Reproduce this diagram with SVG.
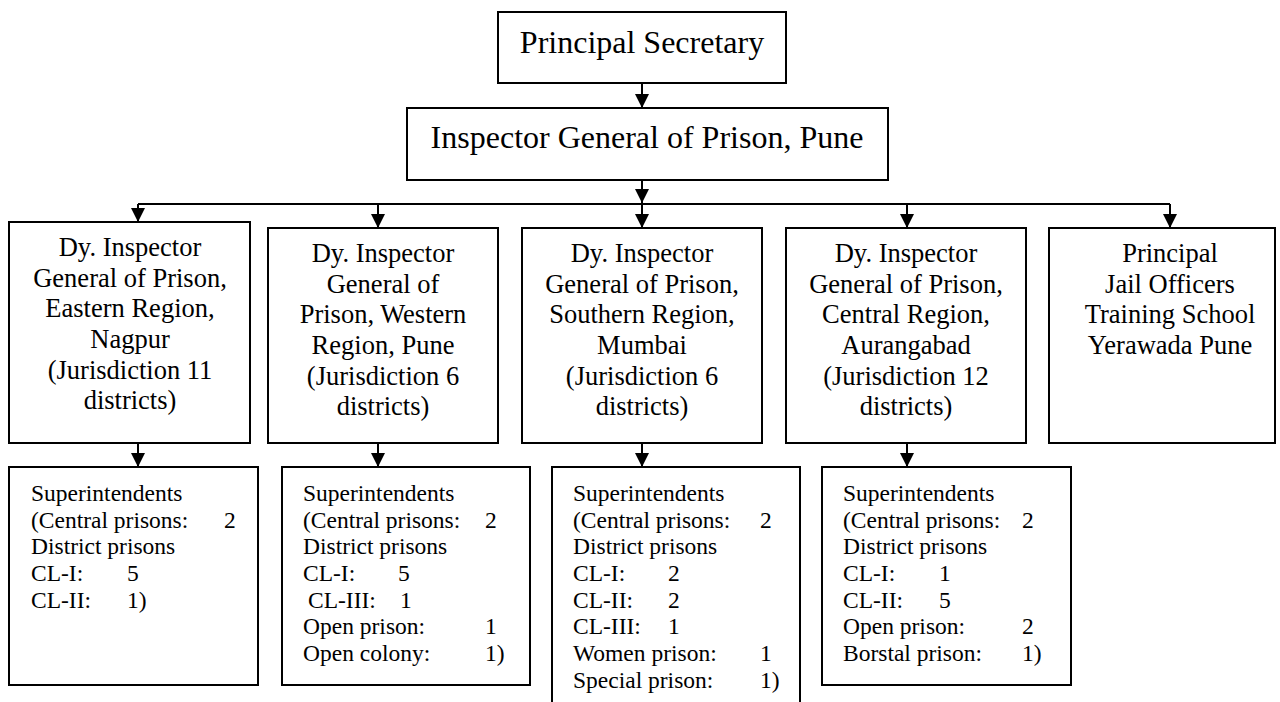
<svg xmlns="http://www.w3.org/2000/svg" width="1280" height="702" viewBox="0 0 1280 702">
<defs>
<marker id="ah" viewBox="0 0 14 14" refX="14" refY="7" markerWidth="14" markerHeight="14" markerUnits="userSpaceOnUse" orient="auto">
<path d="M0,0 L14,7 L0,14 Z" fill="#000"/>
</marker>
<style>
rect{fill:#fff;stroke:#000;stroke-width:2}
text{font-family:"Liberation Serif","Times New Roman",serif;fill:#000}
.big{font-size:32px;text-anchor:middle}
.mid{font-size:26.5px;text-anchor:middle}
.sm{font-size:23.5px}
.c line,.c path{stroke:#000;stroke-width:2;fill:none}
</style>
</defs>
<rect x="0" y="0" width="1280" height="702" style="stroke:none"/>
<g class="c" id="connectors">
<line x1="642" y1="83" x2="642" y2="108" marker-end="url(#ah)"/>
<line x1="642" y1="180" x2="642" y2="203" marker-end="url(#ah)"/>
<line x1="138" y1="204" x2="1170" y2="204"/>
<line x1="138" y1="204" x2="138" y2="222" marker-end="url(#ah)"/>
<line x1="378" y1="204" x2="378" y2="228" marker-end="url(#ah)"/>
<line x1="642" y1="204" x2="642" y2="228" marker-end="url(#ah)"/>
<line x1="907" y1="204" x2="907" y2="228" marker-end="url(#ah)"/>
<line x1="1170" y1="204" x2="1170" y2="228" marker-end="url(#ah)"/>
<line x1="138" y1="443" x2="138" y2="467" marker-end="url(#ah)"/>
<line x1="378" y1="443" x2="378" y2="467" marker-end="url(#ah)"/>
<line x1="642" y1="443" x2="642" y2="467" marker-end="url(#ah)"/>
<line x1="907" y1="443" x2="907" y2="467" marker-end="url(#ah)"/>
</g>
<g id="principal-secretary">
<rect x="498" y="12" width="288" height="71"/>
<text class="big" x="642" y="53">Principal Secretary</text>
</g>
<g id="inspector-general">
<rect x="407" y="108" width="481" height="72"/>
<text class="big" x="647" y="148">Inspector General of Prison, Pune</text>
</g>
<g id="dig-eastern">
<rect x="9" y="222" width="241" height="221"/>
<text class="mid"><tspan x="130" y="256">Dy. Inspector</tspan><tspan x="130" y="287">General of Prison,</tspan><tspan x="130" y="317">Eastern Region,</tspan><tspan x="130" y="348">Nagpur</tspan><tspan x="130" y="379">(Jurisdiction 11</tspan><tspan x="130" y="409">districts)</tspan></text>
</g>
<g id="dig-western">
<rect x="268" y="228" width="230" height="215"/>
<text class="mid"><tspan x="383" y="262">Dy. Inspector</tspan><tspan x="383" y="293">General of</tspan><tspan x="383" y="323">Prison, Western</tspan><tspan x="383" y="354">Region, Pune</tspan><tspan x="383" y="385">(Jurisdiction 6</tspan><tspan x="383" y="415">districts)</tspan></text>
</g>
<g id="dig-southern">
<rect x="522" y="228" width="240" height="215"/>
<text class="mid"><tspan x="642" y="262">Dy. Inspector</tspan><tspan x="642" y="293">General of Prison,</tspan><tspan x="642" y="323">Southern Region,</tspan><tspan x="642" y="354">Mumbai</tspan><tspan x="642" y="385">(Jurisdiction 6</tspan><tspan x="642" y="415">districts)</tspan></text>
</g>
<g id="dig-central">
<rect x="786" y="228" width="240" height="215"/>
<text class="mid"><tspan x="906" y="262">Dy. Inspector</tspan><tspan x="906" y="293">General of Prison,</tspan><tspan x="906" y="323">Central Region,</tspan><tspan x="906" y="354">Aurangabad</tspan><tspan x="906" y="385">(Jurisdiction 12</tspan><tspan x="906" y="415">districts)</tspan></text>
</g>
<g id="training-school">
<rect x="1049" y="228" width="226" height="215"/>
<text class="mid"><tspan x="1170" y="262">Principal</tspan><tspan x="1170" y="293">Jail Officers</tspan><tspan x="1170" y="323">Training School</tspan><tspan x="1170" y="354">Yerawada Pune</tspan></text>
</g>
<g id="supt-eastern">
<rect x="9" y="467" width="249" height="218"/>
<text class="sm">
<tspan x="31" y="501">Superintendents</tspan>
<tspan x="31" y="528">(Central prisons:</tspan><tspan x="224">2</tspan>
<tspan x="31" y="554">District prisons</tspan>
<tspan x="31" y="581">CL-I:</tspan><tspan x="127">5</tspan>
<tspan x="31" y="608">CL-II:</tspan><tspan x="127">1)</tspan>
</text>
</g>
<g id="supt-western">
<rect x="282" y="467" width="248" height="218"/>
<text class="sm">
<tspan x="303" y="501">Superintendents</tspan>
<tspan x="303" y="528">(Central prisons:</tspan><tspan x="485">2</tspan>
<tspan x="303" y="554">District prisons</tspan>
<tspan x="303" y="581">CL-I:</tspan><tspan x="398">5</tspan>
<tspan x="308" y="608">CL-III:</tspan><tspan x="400">1</tspan>
<tspan x="303" y="634">Open prison:</tspan><tspan x="485">1</tspan>
<tspan x="303" y="661">Open colony:</tspan><tspan x="485">1)</tspan>
</text>
</g>
<g id="supt-southern">
<path d="M552,704 V467 H800 V704" fill="#fff" stroke="#000" stroke-width="2"/>
<text class="sm">
<tspan x="573" y="501">Superintendents</tspan>
<tspan x="573" y="528">(Central prisons:</tspan><tspan x="760">2</tspan>
<tspan x="573" y="554">District prisons</tspan>
<tspan x="573" y="581">CL-I:</tspan><tspan x="668">2</tspan>
<tspan x="573" y="608">CL-II:</tspan><tspan x="668">2</tspan>
<tspan x="573" y="634">CL-III:</tspan><tspan x="668">1</tspan>
<tspan x="573" y="661">Women prison:</tspan><tspan x="760">1</tspan>
<tspan x="573" y="688">Special prison:</tspan><tspan x="760">1)</tspan>
</text>
</g>
<g id="supt-central">
<rect x="822" y="467" width="249" height="218"/>
<text class="sm">
<tspan x="843" y="501">Superintendents</tspan>
<tspan x="843" y="528">(Central prisons:</tspan><tspan x="1022">2</tspan>
<tspan x="843" y="554">District prisons</tspan>
<tspan x="843" y="581">CL-I:</tspan><tspan x="939">1</tspan>
<tspan x="843" y="608">CL-II:</tspan><tspan x="939">5</tspan>
<tspan x="843" y="634">Open prison:</tspan><tspan x="1022">2</tspan>
<tspan x="843" y="661">Borstal prison:</tspan><tspan x="1022">1)</tspan>
</text>
</g>
</svg>
